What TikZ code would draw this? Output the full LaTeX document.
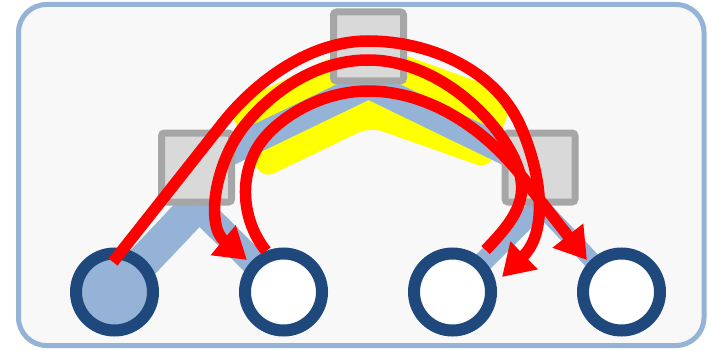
\documentclass[tikz,border=0pt]{standalone}
\usepackage{tikz}
\usetikzlibrary{arrows.meta, calc}
\definecolor{edgeblue}{HTML}{95B3D7}
\definecolor{leafborder}{HTML}{1F497D}
\definecolor{sqgray}{HTML}{A6A6A6}
\definecolor{sqfill}{HTML}{D9D9D9}
\definecolor{hlyellow}{HTML}{FFFF00}
\definecolor{walkred}{HTML}{FF0000}
\definecolor{panelfill}{HTML}{F8F8F8}
\pgfdeclarelayer{panel}
\pgfdeclarelayer{edges}
\pgfsetlayers{panel,edges,main}
\tikzset{
  panelbox/.style={
    draw=edgeblue, fill=panelfill, line width=5pt, rounded corners=28pt
  },
  sqbox/.style={
    draw=sqgray, fill=sqfill, rectangle, line width=7pt,
    minimum width=70pt, minimum height=69pt, inner sep=0pt,
    rounded corners=3pt
  },
  leafnode/.style={
    draw=leafborder, fill=white, circle, line width=12pt,
    minimum size=77pt, inner sep=0pt
  },
  treeedge/.style={
    draw=edgeblue, line width=#1
  },
  treeedge/.default=28pt,
  highlight/.style={
    fill=hlyellow, rounded corners=13pt
  },
  walkarrow/.style={
    -{Triangle[length=31pt,width=37pt]}, draw=walkred, line width=11.5pt
  },
}

\begin{document}
\begin{tikzpicture}[x=1pt, y=-1pt]
  \useasboundingbox (0,0) rectangle (708,350);

  %%% Panel %%%
  \begin{pgfonlayer}{panel}
    \draw[panelbox] (18.5,4.5) rectangle (704,345.5);
    % highlighted path lsq - top - rsq
    \fill[highlight] (228,107) -- (366,41) -- (514,95) -- (489,169)
      -- (370,127) -- (262,179) -- cycle;
  \end{pgfonlayer}

  %%% Inner nodes (squares) %%%
  \node[sqbox] (top) at (368.5,46.5) {};
  \node[sqbox] (lsq) at (196.5,167.5) {};
  \node[sqbox] (rsq) at (540,167.5) {};

  %%% Leaves (circles) %%%
  \node[leafnode, fill=edgeblue] (c1) at (114.5,292) {};
  \node[leafnode] (c2) at (283.5,292) {};
  \node[leafnode] (c3) at (452.5,292) {};
  \node[leafnode] (c4) at (621.5,292) {};

  %%% Tree edges %%%
  \begin{pgfonlayer}{edges}
    \draw[treeedge] (top.south) -- (lsq.center);
    \draw[treeedge] (top.south) -- (rsq.center);
    \draw[treeedge=34pt] (lsq.south) -- (c1.center);
    \draw[treeedge=26pt] (lsq.south) -- (c2.center);
    \draw[treeedge=20pt] (rsq.south) -- (c3.center);
    \draw[treeedge=17pt] (rsq.south) -- (c4.center);
  \end{pgfonlayer}

  %%% Walk arrows %%%
  \draw[walkarrow] ($(c1)+(-1.5,-30)$) -- (222,124)
    .. controls (250,88) and (305,41) .. (368,41)
    .. controls (430,41) and (495,70) .. (520,125)
    .. controls (540,169) and (550,230) .. ($(c3)+(49.5,-15)$);
  \draw[walkarrow] ($(c3)+(33,-42)$)
    .. controls (510,225) and (525,205) .. (521,180)
    .. controls (516,140) and (450,60) .. (368,60)
    .. controls (320,60) and (275,88) .. (245,125)
    .. controls (215,162) and (205,225) .. ($(c2)+(-36.5,-32)$);
  \draw[walkarrow] (c2.113)
    .. controls (245,225) and (238,185) .. (255,152)
    .. controls (268,125) and (315,91) .. (368,91)
    .. controls (430,91) and (490,130) .. (532,190)
    -- ($(c4)+(-34.5,-32)$);

\end{tikzpicture}
\end{document}
